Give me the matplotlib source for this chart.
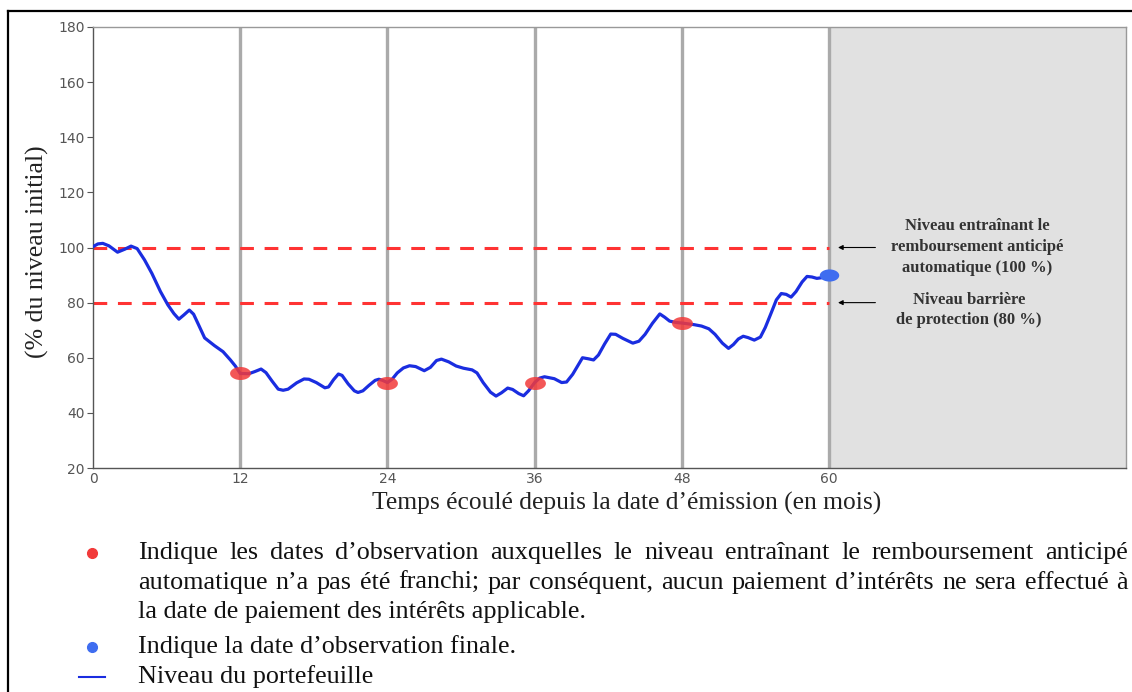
import numpy as np
import matplotlib
matplotlib.use("Agg")
import matplotlib.pyplot as plt
from matplotlib.path import Path
from matplotlib.lines import Line2D

# ---------------- data ----------------
months = [0, 0.4, 0.8, 1.3, 2.0, 2.6, 3.1, 3.6, 4.2, 4.8, 5.5, 6.1, 6.6, 7.0, 7.4, 7.85,
          8.2, 8.6, 9.1, 9.9, 10.6, 11.2, 11.6, 12.0, 12.7, 13.2, 13.7, 14.1, 14.6, 15.1,
          15.5, 15.9, 16.6, 17.2, 17.6, 18.2, 18.9, 19.2, 19.6, 20.0, 20.3, 20.8, 21.3,
          21.6, 22.0, 22.5, 23.0, 23.3, 23.6, 24.0, 24.4, 24.8, 25.3, 25.8, 26.3, 27.0,
          27.5, 28.0, 28.4, 29.0, 29.6, 30.2, 30.9, 31.3, 31.8, 32.4, 32.85, 33.3, 33.8,
          34.2, 34.7, 35.1, 35.5, 36.0, 36.4, 36.8, 37.6, 38.2, 38.6, 39.1, 39.5, 39.9,
          40.4, 40.8, 41.2, 41.7, 42.2, 42.6, 43.2, 44.0, 44.5, 45.0, 45.6, 46.2, 46.6,
          47.0, 47.5, 48.0, 49.0, 49.6, 50.2, 50.7, 51.3, 51.8, 52.2, 52.6, 53.0, 53.4,
          53.9, 54.4, 54.8, 55.3, 55.7, 56.1, 56.5, 56.9, 57.3, 57.8, 58.2, 58.6, 59.0,
          59.5, 60.0]
level = [100.3, 101.3, 101.5, 100.6, 98.3, 99.4, 100.5, 99.6, 95.5, 90.6, 84.0, 79.2, 76.0, 74.0, 75.5, 77.3,
         75.8, 72.0, 67.2, 64.4, 62.2, 59.2, 57.0, 54.3, 54.2, 55.0, 55.9, 54.6, 51.5, 48.6,
         48.2, 48.6, 50.9, 52.3, 52.2, 51.0, 49.1, 49.4, 52.0, 54.1, 53.6, 50.5, 48.0,
         47.4, 48.0, 50.0, 51.8, 52.2, 51.8, 51.0, 52.3, 54.5, 56.3, 57.1, 56.8, 55.3,
         56.5, 59.0, 59.5, 58.5, 57.0, 56.2, 55.6, 54.5, 51.0, 47.5, 46.1, 47.3, 49.0,
         48.5, 47.0, 46.2, 48.0, 51.0, 52.6, 53.1, 52.4, 51.0, 51.2, 54.0, 57.0, 60.0,
         59.6, 59.2, 61.0, 65.0, 68.6, 68.5, 67.0, 65.3, 66.0, 68.5, 72.5, 75.9, 74.7,
         73.3, 72.8, 72.6, 72.0, 71.5, 70.5, 68.5, 65.3, 63.4, 64.8, 66.8, 67.8, 67.3,
         66.4, 67.5, 71.0, 76.5, 81.0, 83.3, 83.0, 82.0, 84.0, 87.5, 89.5, 89.3, 88.8,
         89.1, 90.0]
obs_months = [12, 24, 36, 48]
obs_levels = [54.3, 51.0, 51.0, 72.6]
final_month = [60]
final_level = [90.0]
autocall_level = 100
barrier_level = 80
xticks = [0, 12, 24, 36, 48, 60]
yticks = [20, 40, 60, 80, 100, 120, 140, 160, 180]

W, H = 1132, 692
fig = plt.figure(figsize=(W / 100, H / 100), dpi=100)
ax = fig.add_axes([93 / W, 1 - 468 / H, (1126 - 93) / W, (468 - 27) / H])

xmax = 84.2
ax.set_xlim(0, xmax)
ax.set_ylim(20, 180)

ax.axvspan(60, xmax, color='#e1e1e1', zorder=0)
for m in xticks[1:]:
    ax.axvline(m, color='#aaaaaa', lw=2.4, zorder=1)

ax.hlines([autocall_level, barrier_level], 0, 60, colors='#ff3333', linestyles=(0, (4.5, 3.5)),
          lw=2.2, zorder=2)

ax.plot(months, level, color='#1a2de0', lw=2.3, solid_joinstyle='round', solid_capstyle='round', zorder=3)

# elliptic markers (wider than tall)
t = np.linspace(0, 2 * np.pi, 60)
ell = Path(np.column_stack([1.6 * np.cos(t), np.sin(t)]), closed=True)
ax.plot(obs_months, obs_levels, ls='none', marker=ell, ms=15, mfc='#f23a3a', mec='none', alpha=0.85, zorder=4)
ax.plot(final_month, final_level, ls='none', marker=ell, ms=14, mfc='#3f6df0', mec='none', zorder=4)

ax.set_xticks(xticks)
ax.set_yticks(yticks)
ax.tick_params(axis='both', colors='#555555', labelsize=10, length=4, width=0.8, pad=2)
ax.tick_params(axis='x', length=0, pad=3)
for s in ['left', 'bottom']:
    ax.spines[s].set_color('#555555')
    ax.spines[s].set_linewidth(1.0)
for s in ['top', 'right']:
    ax.spines[s].set_color('#999999')
    ax.spines[s].set_linewidth(1.0)

ax.set_ylabel('(% du niveau initial)', family='Liberation Serif', fontsize=18.5, color='#222222', labelpad=3)
ax.yaxis.set_label_coords(-40 / (1126 - 93) - 0.004, 0.49)
fig.text(627 / W, 1 - 503 / H, 'Temps écoulé depuis la date d’émission (en mois)',
         family='Liberation Serif', fontsize=18.4, color='#222222', ha='center', va='center')

# annotations
ax.annotate('', xy=(60.5, autocall_level), xytext=(64.0, autocall_level),
            arrowprops=dict(arrowstyle='-|>', color='black', lw=0.8, mutation_scale=7))
ax.annotate('', xy=(60.5, barrier_level), xytext=(64.0, barrier_level),
            arrowprops=dict(arrowstyle='-|>', color='black', lw=0.8, mutation_scale=7))
fig.text(977 / W, 1 - 247 / H, 'Niveau entraînant le\nremboursement anticipé\nautomatique (100 %)',
         family='Liberation Serif', fontsize=12, color='#333333', ha='center', va='center',
         linespacing=1.38, fontweight='bold')
fig.text(969 / W, 1 - 310 / H, 'Niveau barrière\nde protection (80 %)',
         family='Liberation Serif', fontsize=12, color='#333333', ha='center', va='center',
         linespacing=1.38, fontweight='bold')

# frame lines of the document
fig.add_artist(Line2D([8 / W, 8 / W], [0, 1 - 11 / H], color='black', lw=1.6))
fig.add_artist(Line2D([8 / W, 1], [1 - 11 / H, 1 - 11 / H], color='black', lw=1.6))

# legend-like notes
tkw = dict(family='Liberation Serif', fontsize=18.8, color='#111111', va='center')
fig.canvas.draw()
renderer = fig.canvas.get_renderer()


def justify(line, y, x0=138, x1=1128):
    words = line.split(' ')
    objs = [fig.text(x0 / W, y, w, ha='left', **tkw) for w in words]
    widths = [o.get_window_extent(renderer).width for o in objs]
    gap = (x1 - x0 - sum(widths)) / (len(words) - 1)
    x = x0
    for o, w in zip(objs, widths):
        o.set_x(x / W)
        x += w + gap


justify('Indique les dates d’observation auxquelles le niveau entraînant le remboursement anticipé', 1 - 553 / H)
justify('automatique n’a pas été franchi; par conséquent, aucun paiement d’intérêts ne sera effectué à', 1 - 583 / H)
fig.text(138 / W, 1 - 612 / H, 'la date de paiement des intérêts applicable.', ha='left', **tkw)
fig.text(138 / W, 1 - 647 / H, 'Indique la date d’observation finale.', ha='left', **tkw)
fig.text(138 / W, 1 - 677 / H, 'Niveau du portefeuille', ha='left', **tkw)

fig.add_artist(Line2D([92 / W], [1 - 553 / H], marker='o', ms=7, color='#f23a3a', ls='none'))
fig.add_artist(Line2D([92 / W], [1 - 647 / H], marker='o', ms=7, color='#3f6df0', ls='none'))
fig.add_artist(Line2D([79 / W, 105 / W], [1 - 677 / H, 1 - 677 / H], color='#1a2de0', lw=1.5))

fig.savefig('out.png', dpi=100)
